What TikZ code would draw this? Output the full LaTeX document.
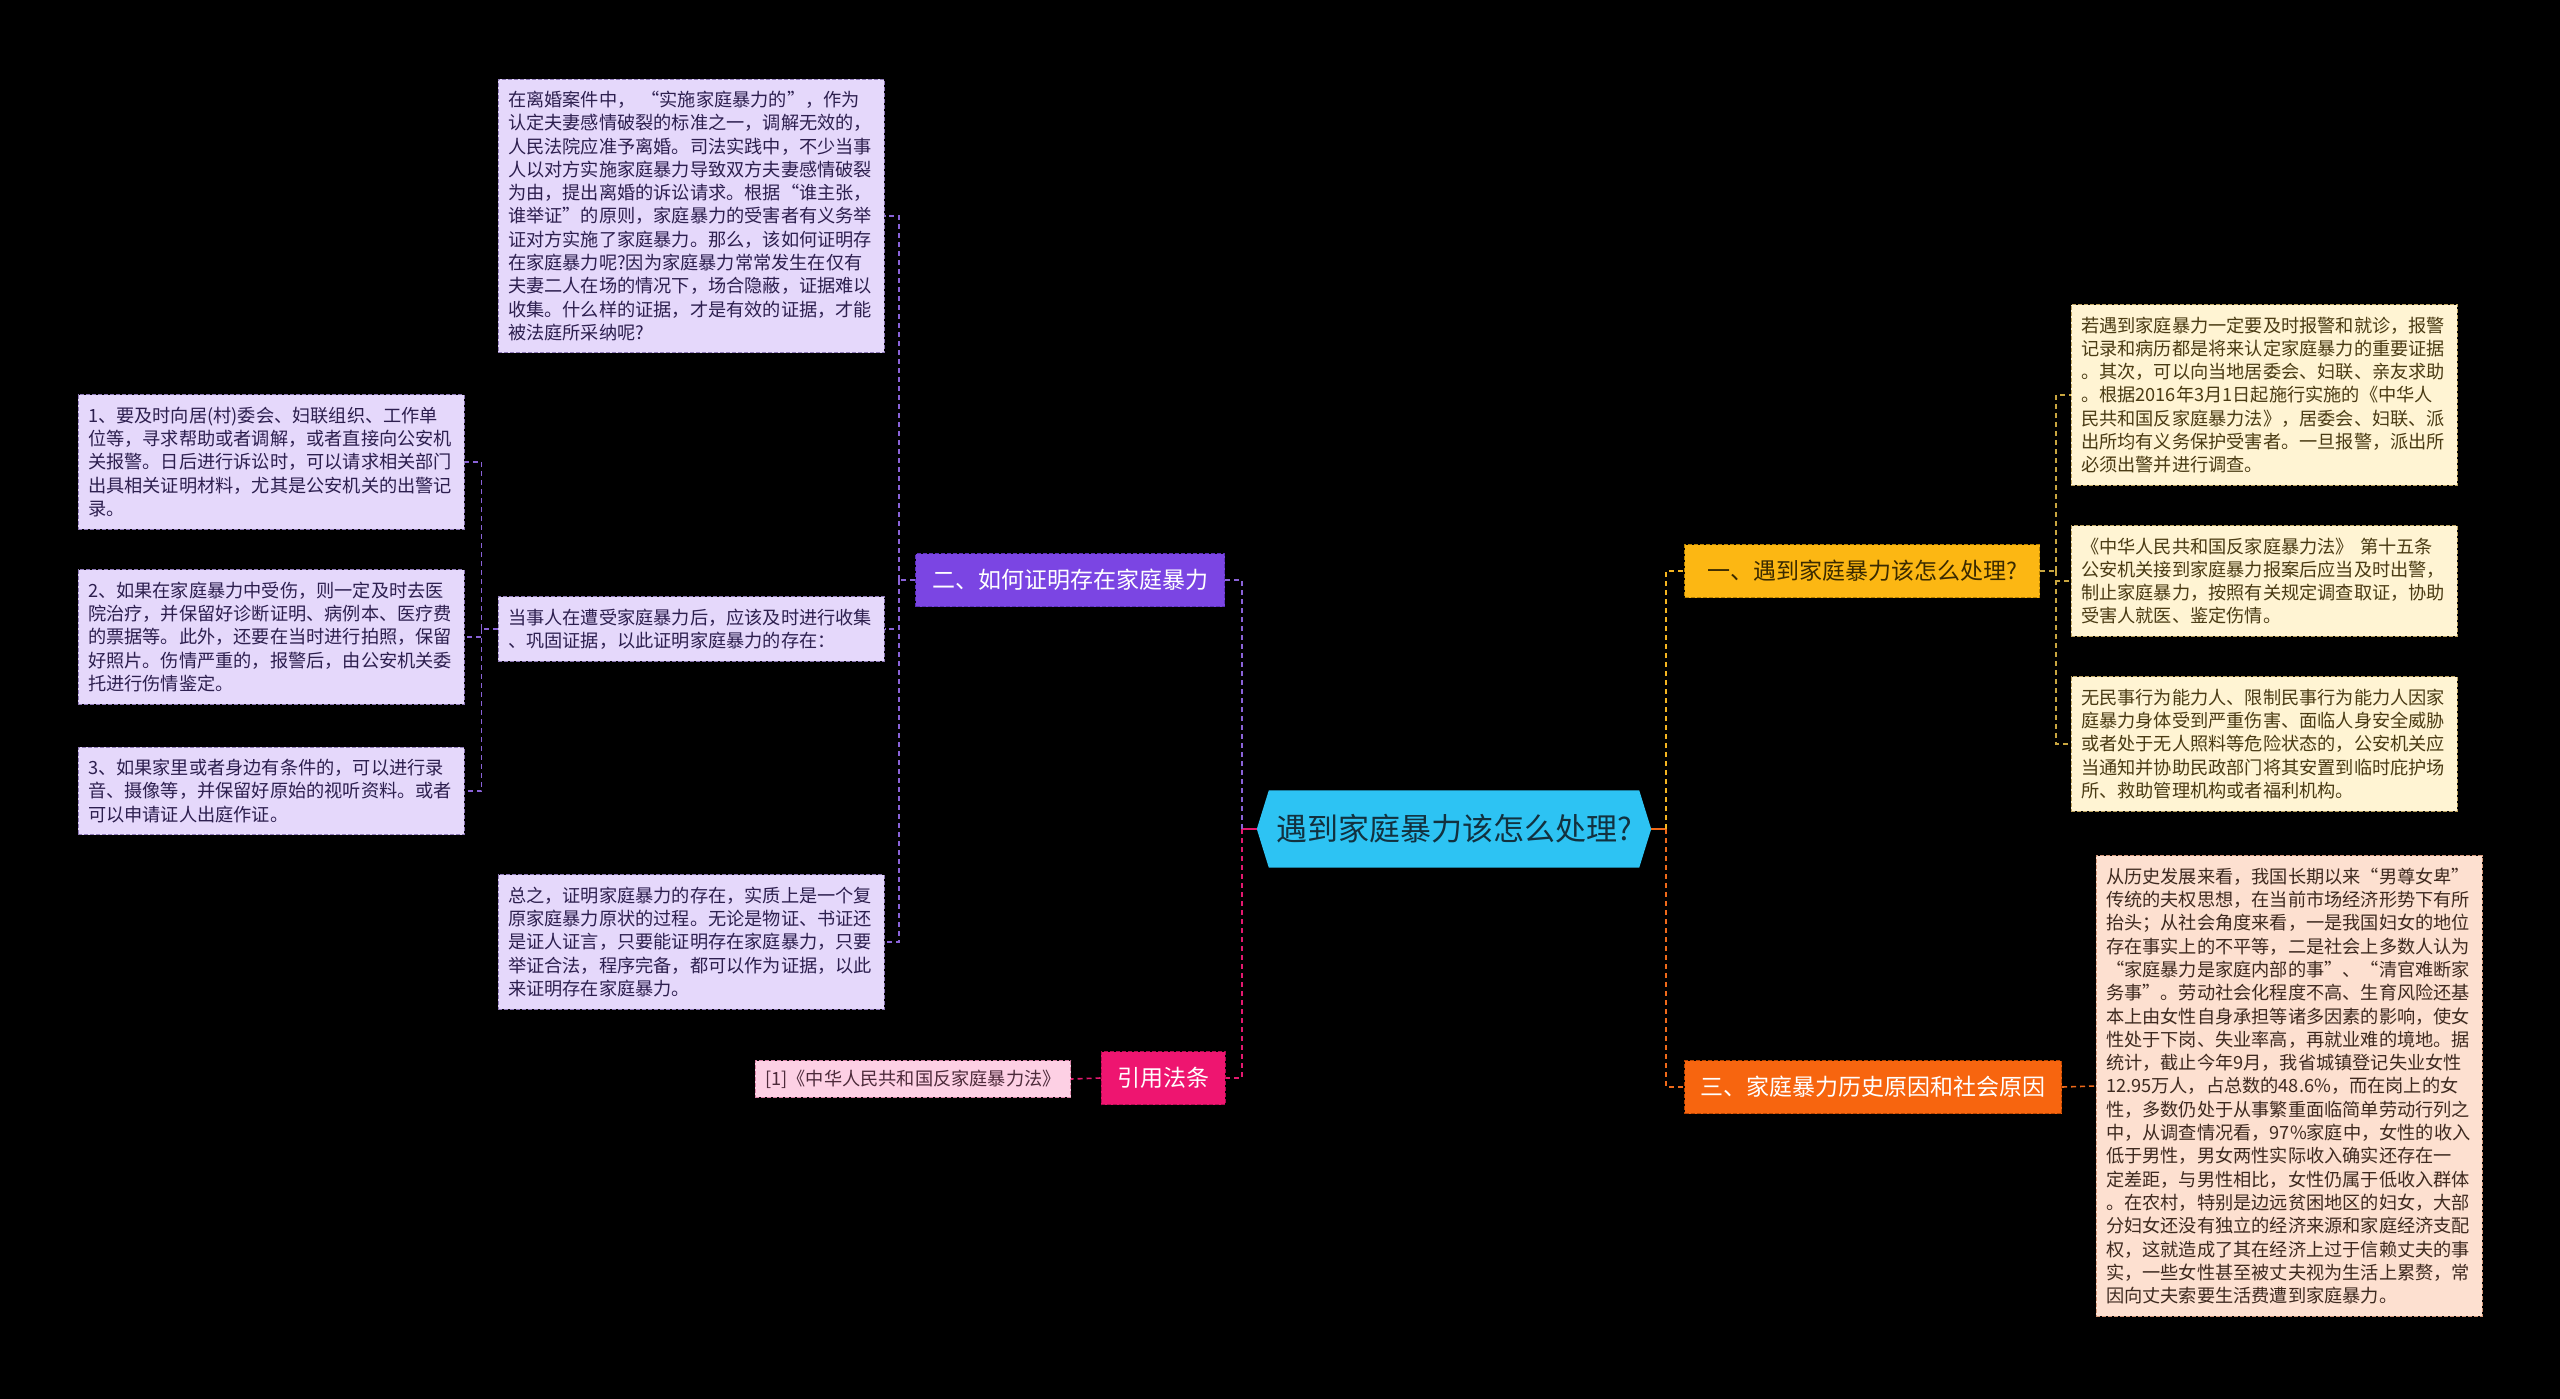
\documentclass[tikz,border=0pt]{standalone}
\usepackage{fontspec}
\newfontfamily\cjk{Noto Sans CJK SC}
\usetikzlibrary{backgrounds,calc}
\definecolor{cenC}{HTML}{2DC3F3}
\definecolor{cenT}{HTML}{12313F}
\definecolor{purN}{HTML}{7B45E3}
\definecolor{purB}{HTML}{5A2FB8}
\definecolor{pinN}{HTML}{EE1570}
\definecolor{pinB}{HTML}{B00D50}
\definecolor{yelN}{HTML}{FCB713}
\definecolor{yelB}{HTML}{B88300}
\definecolor{yelT}{HTML}{3A2A00}
\definecolor{oraN}{HTML}{F7650F}
\definecolor{oraB}{HTML}{B84400}
\definecolor{purL}{HTML}{E5D8FB}
\definecolor{purLB}{HTML}{8F7AB8}
\definecolor{purLT}{HTML}{2D1F4F}
\definecolor{yelL}{HTML}{FFF4D3}
\definecolor{yelLB}{HTML}{BFA562}
\definecolor{yelLT}{HTML}{4A3B14}
\definecolor{oraL}{HTML}{FDE0D0}
\definecolor{oraLB}{HTML}{D59A7C}
\definecolor{oraLT}{HTML}{3E2A20}
\definecolor{citL}{HTML}{FDD0E4}
\definecolor{citLB}{HTML}{D983A8}
\definecolor{citLT}{HTML}{4D2A3A}
\definecolor{purC}{HTML}{8A63D8}
\definecolor{pinC}{HTML}{E3196F}
\definecolor{yelC}{HTML}{F5B520}
\definecolor{oraC}{HTML}{F06A1A}
\definecolor{yelLC}{HTML}{C9A640}
\begin{document}
\begin{tikzpicture}[x=1pt,y=-1pt,
  leaf/.style={draw, dash pattern=on 4pt off 2pt, line width=1pt,
    font=\cjk\fontsize{18.2}{23.3}\selectfont, align=left, text width=366pt,
    inner xsep=10pt, inner ysep=12pt},
  pleaf/.style={leaf, fill=purL, draw=purLB, text=purLT},
  yleaf/.style={leaf, fill=yelL, draw=yelLB, text=yelLT},
  oleaf/.style={leaf, fill=oraL, draw=oraLB, text=oraLT},
  cleaf/.style={draw, dash pattern=on 4pt off 2pt, line width=1pt,
    font=\cjk\fontsize{18.2}{23.3}\selectfont, fill=citL, draw=citLB, text=citLT,
    inner xsep=10pt, inner ysep=9pt},
  branch/.style={draw, dash pattern=on 4pt off 2pt, line width=1pt,
    font=\cjk\fontsize{23}{27}\selectfont, minimum height=53pt, inner xsep=16pt},
  dline/.style={dash pattern=on 5pt off 4pt, line width=1.6pt},
  sline/.style={line width=2.2pt}
]
\useasboundingbox (0,0) rectangle (2560,1399);

% center
\node[minimum width=394pt, minimum height=77pt, inner sep=0pt, text=cenT,
  font=\cjk\fontsize{31}{36}\selectfont] (c) at (1454,829) {遇到家庭暴力该怎么处理?};

% branches
\node[branch, fill=purN, draw=purB, text=white, minimum width=309pt] (b2) at (1070,580) {二、如何证明存在家庭暴力};
\node[branch, fill=pinN, draw=pinB, text=white, minimum width=119pt] (b4) at (1163,1078) {引用法条};
\node[branch, fill=yelN, draw=yelB, text=yelT, minimum width=355pt] (b1) at (1862,571) {一、遇到家庭暴力该怎么处理?};
\node[branch, fill=oraN, draw=oraB, text=white, minimum width=377pt] (b3) at (1873,1087) {三、家庭暴力历史原因和社会原因};

% purple leaves
\node[pleaf] (p1) at (691,216) {在离婚案件中， “实施家庭暴力的”，作为\\
认定夫妻感情破裂的标准之一，调解无效的，\\
人民法院应准予离婚。司法实践中，不少当事\\
人以对方实施家庭暴力导致双方夫妻感情破裂\\
为由，提出离婚的诉讼请求。根据“谁主张，\\
谁举证”的原则，家庭暴力的受害者有义务举\\
证对方实施了家庭暴力。那么，该如何证明存\\
在家庭暴力呢?因为家庭暴力常常发生在仅有\\
夫妻二人在场的情况下，场合隐蔽，证据难以\\
收集。什么样的证据，才是有效的证据，才能\\
被法庭所采纳呢?};
\node[pleaf] (p2) at (691,629) {当事人在遭受家庭暴力后，应该及时进行收集\\
、巩固证据，以此证明家庭暴力的存在：};
\node[pleaf] (p3) at (691,942) {总之，证明家庭暴力的存在，实质上是一个复\\
原家庭暴力原状的过程。无论是物证、书证还\\
是证人证言，只要能证明存在家庭暴力，只要\\
举证合法，程序完备，都可以作为证据，以此\\
来证明存在家庭暴力。};
\node[pleaf] (q1) at (271,462) {1、要及时向居(村)委会、妇联组织、工作单\\
位等，寻求帮助或者调解，或者直接向公安机\\
关报警。日后进行诉讼时，可以请求相关部门\\
出具相关证明材料，尤其是公安机关的出警记\\
录。};
\node[pleaf] (q2) at (271,637) {2、如果在家庭暴力中受伤，则一定及时去医\\
院治疗，并保留好诊断证明、病例本、医疗费\\
的票据等。此外，还要在当时进行拍照，保留\\
好照片。伤情严重的，报警后，由公安机关委\\
托进行伤情鉴定。};
\node[pleaf] (q3) at (271,791) {3、如果家里或者身边有条件的，可以进行录\\
音、摄像等，并保留好原始的视听资料。或者\\
可以申请证人出庭作证。};

% citation
\node[cleaf] (k1) at (913,1079) {[1]《中华人民共和国反家庭暴力法》};

% right leaves
\node[yleaf] (r1) at (2264,395) {若遇到家庭暴力一定要及时报警和就诊，报警\\
记录和病历都是将来认定家庭暴力的重要证据\\
。其次，可以向当地居委会、妇联、亲友求助\\
。根据2016年3月1日起施行实施的《中华人\\
民共和国反家庭暴力法》，居委会、妇联、派\\
出所均有义务保护受害者。一旦报警，派出所\\
必须出警并进行调查。};
\node[yleaf] (r2) at (2264,581) {《中华人民共和国反家庭暴力法》 第十五条\\
公安机关接到家庭暴力报案后应当及时出警，\\
制止家庭暴力，按照有关规定调查取证，协助\\
受害人就医、鉴定伤情。};
\node[yleaf] (r3) at (2264,744) {无民事行为能力人、限制民事行为能力人因家\\
庭暴力身体受到严重伤害、面临人身安全威胁\\
或者处于无人照料等危险状态的，公安机关应\\
当通知并协助民政部门将其安置到临时庇护场\\
所、救助管理机构或者福利机构。};
\node[oleaf] (o1) at (2289,1086) {从历史发展来看，我国长期以来“男尊女卑”\\
传统的夫权思想，在当前市场经济形势下有所\\
抬头；从社会角度来看，一是我国妇女的地位\\
存在事实上的不平等，二是社会上多数人认为\\
“家庭暴力是家庭内部的事”、“清官难断家\\
务事”。劳动社会化程度不高、生育风险还基\\
本上由女性自身承担等诸多因素的影响，使女\\
性处于下岗、失业率高，再就业难的境地。据\\
统计，截止今年9月，我省城镇登记失业女性\\
12.95万人，占总数的48.6\%，而在岗上的女\\
性，多数仍处于从事繁重面临简单劳动行列之\\
中，从调查情况看，97\%家庭中，女性的收入\\
低于男性，男女两性实际收入确实还存在一\\
定差距，与男性相比，女性仍属于低收入群体\\
。在农村，特别是边远贫困地区的妇女，大部\\
分妇女还没有独立的经济来源和家庭经济支配\\
权，这就造成了其在经济上过于信赖丈夫的事\\
实，一些女性甚至被丈夫视为生活上累赘，常\\
因向丈夫索要生活费遭到家庭暴力。};

% background + center shape
\begin{scope}[on background layer]
\fill[black] (0,0) rectangle (2560,1399);
\fill[cenC] ($(c.north west)+(12,0)$) -- ($(c.north east)+(-12,0)$) -- (c.east)
  -- ($(c.south east)+(-12,0)$) -- ($(c.south west)+(12,0)$) -- (c.west) -- cycle;
\end{scope}

% connectors from center
\coordinate (jl) at ($(c.west)+(-15,0)$);
\coordinate (jr) at ($(c.east)+(15,0)$);
\draw[sline, pinC] (c.west) -- (jl);
\draw[sline, oraC] (c.east) -- (jr);
\draw[dline, purC] (jl) |- (b2.east);
\draw[dline, pinC] (jl) |- (b4.east);
\draw[dline, yelC] (jr) |- (b1.west);
\draw[dline, oraC] (jr) |- (b3.west);

% purple branch
\coordinate (j2) at ($(b2.west)+(-16,0)$);
\draw[dline, purC] (b2.west) -- (j2);
\draw[dline, purC] (j2) |- (p1.east);
\draw[dline, purC] (j2) |- (p2.east);
\draw[dline, purC] (j2) |- (p3.east);
\coordinate (j3) at ($(p2.west)+(-16,0)$);
\draw[dline, purC] (p2.west) -- (j3);
\draw[dline, purC] (j3) |- (q1.east);
\draw[dline, purC] (j3) |- (q2.east);
\draw[dline, purC] (j3) |- (q3.east);

% citation
\draw[dline, pinC] (b4.west) -- (k1.east);

% yellow branch
\coordinate (j4) at ($(b1.east)+(16,0)$);
\draw[dline, yelLC] (b1.east) -- (j4);
\draw[dline, yelLC] (j4) |- (r1.west);
\draw[dline, yelLC] (j4) |- (r2.west);
\draw[dline, yelLC] (j4) |- (r3.west);

% orange branch
\draw[dline, oraC] (b3.east) -- (o1.west);
\end{tikzpicture}
\end{document}
